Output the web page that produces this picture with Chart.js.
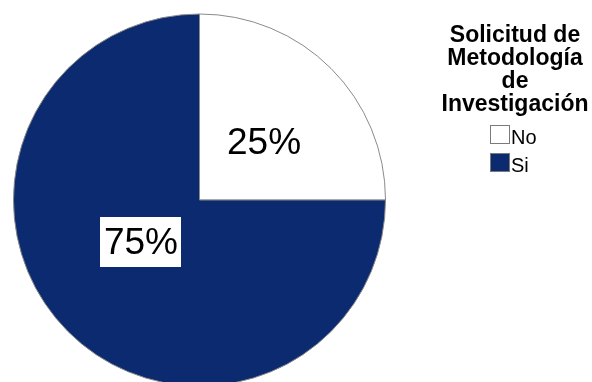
<!DOCTYPE html>
<html>
<head>
<meta charset="utf-8">
<script src="https://cdn.jsdelivr.net/npm/chart.js@4"></script>
<style>
  html, body { margin: 0; padding: 0; background: #fff; overflow: hidden; }
  #wrap { position: relative; width: 592px; height: 400px; }
</style>
</head>
<body>
<div id="wrap"><canvas id="pie"></canvas></div>
<script>
const categories = ["No", "Si"];
const values = [25, 75];
const sliceColors = ["#ffffff", "#0b2a6f"];
const legendTitle = ["Solicitud de", "Metodología", "de", "Investigación"];

const FONT = "'Liberation Sans', Arial, sans-serif";

// small hand nudges so the labels sit where they look best in each slice
const labelNudge = [[8, -1], [-2, -14]];

// percentage text on each slice; the big slice gets a white box behind it
const sliceLabels = {
    id: "sliceLabels",
    afterDatasetsDraw(chart) {
        const ctx = chart.ctx;
        const meta = chart.getDatasetMeta(0);
        const total = values.reduce((a, b) => a + b, 0);
        ctx.save();
        ctx.font = "37px " + FONT;
        ctx.textAlign = "center";
        ctx.textBaseline = "middle";
        meta.data.forEach((arc, i) => {
            const p = arc.getProps(["x", "y", "startAngle", "endAngle", "outerRadius"], true);
            const mid = (p.startAngle + p.endAngle) / 2;
            const r = p.outerRadius * 0.43;
            const x = p.x + Math.cos(mid) * r + labelNudge[i][0];
            const y = p.y + Math.sin(mid) * r + labelNudge[i][1];
            const text = Math.round(values[i] / total * 100) + "%";
            if (sliceColors[i] !== "#ffffff") {
                const w = ctx.measureText(text).width + 7;
                ctx.fillStyle = "#ffffff";
                ctx.fillRect(Math.round(x - w / 2), Math.round(y - 26), Math.round(w), 50);
            }
            ctx.fillStyle = "#000000";
            ctx.fillText(text, x, y + 1);
        });
        ctx.restore();
    }
};

// legend block to the right: wrapped bold title, then swatches
const sideLegend = {
    id: "sideLegend",
    afterDraw(chart) {
        const ctx = chart.ctx;
        const cx = 515;
        ctx.save();
        ctx.textAlign = "center";
        ctx.textBaseline = "alphabetic";
        ctx.fillStyle = "#000";
        ctx.font = "bold 23px " + FONT;
        legendTitle.forEach((line, i) => {
            ctx.fillText(line, cx, 42 + i * 23);
        });
        ctx.font = "20px " + FONT;
        ctx.textAlign = "left";
        categories.forEach((name, i) => {
            const y = 125 + i * 28;
            ctx.fillStyle = sliceColors[i];
            ctx.fillRect(490.5, y + 0.5, 19, 18);
            ctx.strokeStyle = "#7a7a7a";
            ctx.lineWidth = 1;
            ctx.strokeRect(490.5, y + 0.5, 19, 18);
            ctx.fillStyle = "#000";
            ctx.fillText(name, 511, y + 19);
        });
        ctx.restore();
    }
};

new Chart(document.getElementById("pie"), {
    type: "pie",
    data: {
        labels: categories,
        datasets: [{
            data: values,
            backgroundColor: sliceColors,
            borderColor: "#8a8a8a",
            borderWidth: 1
        }]
    },
    options: {
        responsive: true,
        maintainAspectRatio: false,
        animation: false,
        layout: { padding: { left: 13, top: 13, right: 206, bottom: 13 } },
        plugins: {
            legend: { display: false },
            tooltip: { enabled: false }
        }
    },
    plugins: [sliceLabels, sideLegend]
});
</script>
</body>
</html>
